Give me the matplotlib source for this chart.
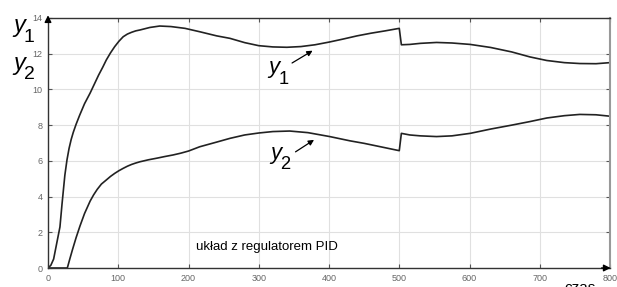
import matplotlib.pyplot as plt

plt.rcParams['font.family'] = ['Liberation Sans', 'DejaVu Sans']

# data
t1 = [0, 4, 8, 11, 14, 17, 20, 24, 27, 30, 33, 36, 40, 45, 52, 60, 66, 72, 78, 83, 89, 95, 101,
      107, 113, 119, 125, 131, 145, 159, 175, 195, 216, 240, 259, 280, 300, 320, 340, 360, 380,
      400, 420, 440, 460, 480, 500, 503, 515, 530, 553, 575, 601, 630, 660, 686, 710, 735, 757,
      780, 800]
y1 = [0, 0.15, 0.5, 1.1, 1.7, 2.3, 3.6, 5.2, 6.05, 6.7, 7.2, 7.6, 8.05, 8.55, 9.2, 9.8, 10.3,
      10.8, 11.25, 11.65, 12.05, 12.4, 12.7, 12.95, 13.1, 13.2, 13.28, 13.33, 13.47, 13.55, 13.52,
      13.42, 13.23, 13.0, 12.86, 12.62, 12.45, 12.38, 12.36, 12.4, 12.5, 12.65, 12.82, 13.0,
      13.15, 13.28, 13.42, 12.5, 12.52, 12.58, 12.63, 12.6, 12.52, 12.35, 12.1, 11.82, 11.62,
      11.5, 11.45, 11.44, 11.5]
t2 = [0, 27.5, 31, 35, 40, 45.5, 52, 60, 65, 70, 76, 83, 89, 95, 101, 107, 113, 119, 125, 131,
      143, 155, 166, 178, 189, 200, 216, 240, 259, 280, 300, 320, 344, 370, 401, 430, 450, 472,
      500, 503, 515, 530, 553, 575, 601, 630, 660, 686, 710, 735, 757, 780, 800]
y2 = [0, 0, 0.5, 1.05, 1.7, 2.35, 3.05, 3.75, 4.1, 4.4, 4.7, 4.93, 5.13, 5.3, 5.45, 5.58, 5.7,
      5.8, 5.88, 5.95, 6.06, 6.15, 6.24, 6.33, 6.43, 6.55, 6.79, 7.05, 7.26, 7.45, 7.56, 7.64,
      7.67, 7.58, 7.36, 7.12, 6.98, 6.8, 6.57, 7.54, 7.45, 7.4, 7.36, 7.4, 7.54, 7.78, 8.0, 8.2,
      8.4, 8.53, 8.6, 8.58, 8.5]
xticks = [0, 100, 200, 300, 400, 500, 600, 700, 800]
yticks = [0, 2, 4, 6, 8, 10, 12, 14]

fig = plt.figure(figsize=(6.17, 2.87), dpi=100)
ax = fig.add_axes([0.0778, 0.0662, 0.9109, 0.8711])

ax.plot(t1, y1, color='#222222', lw=1.2)
ax.plot(t2, y2, color='#222222', lw=1.2)

ax.set_xlim(0, 800)
ax.set_ylim(0, 14)
ax.set_xticks(xticks)
ax.set_yticks(yticks)
ax.grid(True, color='#e0e0e0', lw=0.8)
ax.tick_params(direction='in', length=3, labelsize=6.5, labelcolor='#666666', color='#555555',
               top=True, right=True, pad=4)
for s in ['top', 'bottom', 'left']:
    ax.spines[s].set_color('#333333')
    ax.spines[s].set_linewidth(1.0)
ax.spines['right'].set_color('#999999')
ax.spines['right'].set_linewidth(1.5)

# axis arrows
ax.annotate('', xy=(0, 1.022), xytext=(0, 0.98), xycoords='axes fraction',
            arrowprops=dict(arrowstyle='-|>', color='black', lw=1, mutation_scale=10), annotation_clip=False)
ax.annotate('', xy=(1.006, 0), xytext=(0.98, 0), xycoords='axes fraction',
            arrowprops=dict(arrowstyle='-|>', color='black', lw=1, mutation_scale=10), annotation_clip=False)


def ylabel(x, y, sub, coords, size):
    # italic y with a big, dropped index, like the reference
    ax.annotate('y', xy=(x, y), xycoords=coords, fontsize=size, style='italic',
                ha='center', va='center', annotation_clip=False)
    ax.annotate(sub, xy=(x, y), xycoords=coords, xytext=(size * 0.42, -size * 0.5),
                textcoords='offset points', fontsize=size * 0.82, ha='center', va='center',
                annotation_clip=False)


# curve labels
ax.annotate('', xy=(380, 12.25), xytext=(344, 11.4),
            arrowprops=dict(arrowstyle='-|>', color='black', lw=0.9, mutation_scale=8))
ax.annotate('', xy=(382, 7.26), xytext=(349, 6.42),
            arrowprops=dict(arrowstyle='-|>', color='black', lw=0.9, mutation_scale=8))
ylabel(322, 11.2, '1', 'data', 16)
ylabel(324, 6.4, '2', 'data', 16)
ax.text(311, 1.2, 'układ z regulatorem PID', fontsize=9.5, ha='center', va='center')

ylabel(0.031, 0.91, '1', 'figure fraction', 17)
ylabel(0.031, 0.78, '2', 'figure fraction', 17)
fig.text(0.94, 0.022, 'czas', fontsize=11, ha='center', va='top')

fig.savefig('out.png', dpi=100)
